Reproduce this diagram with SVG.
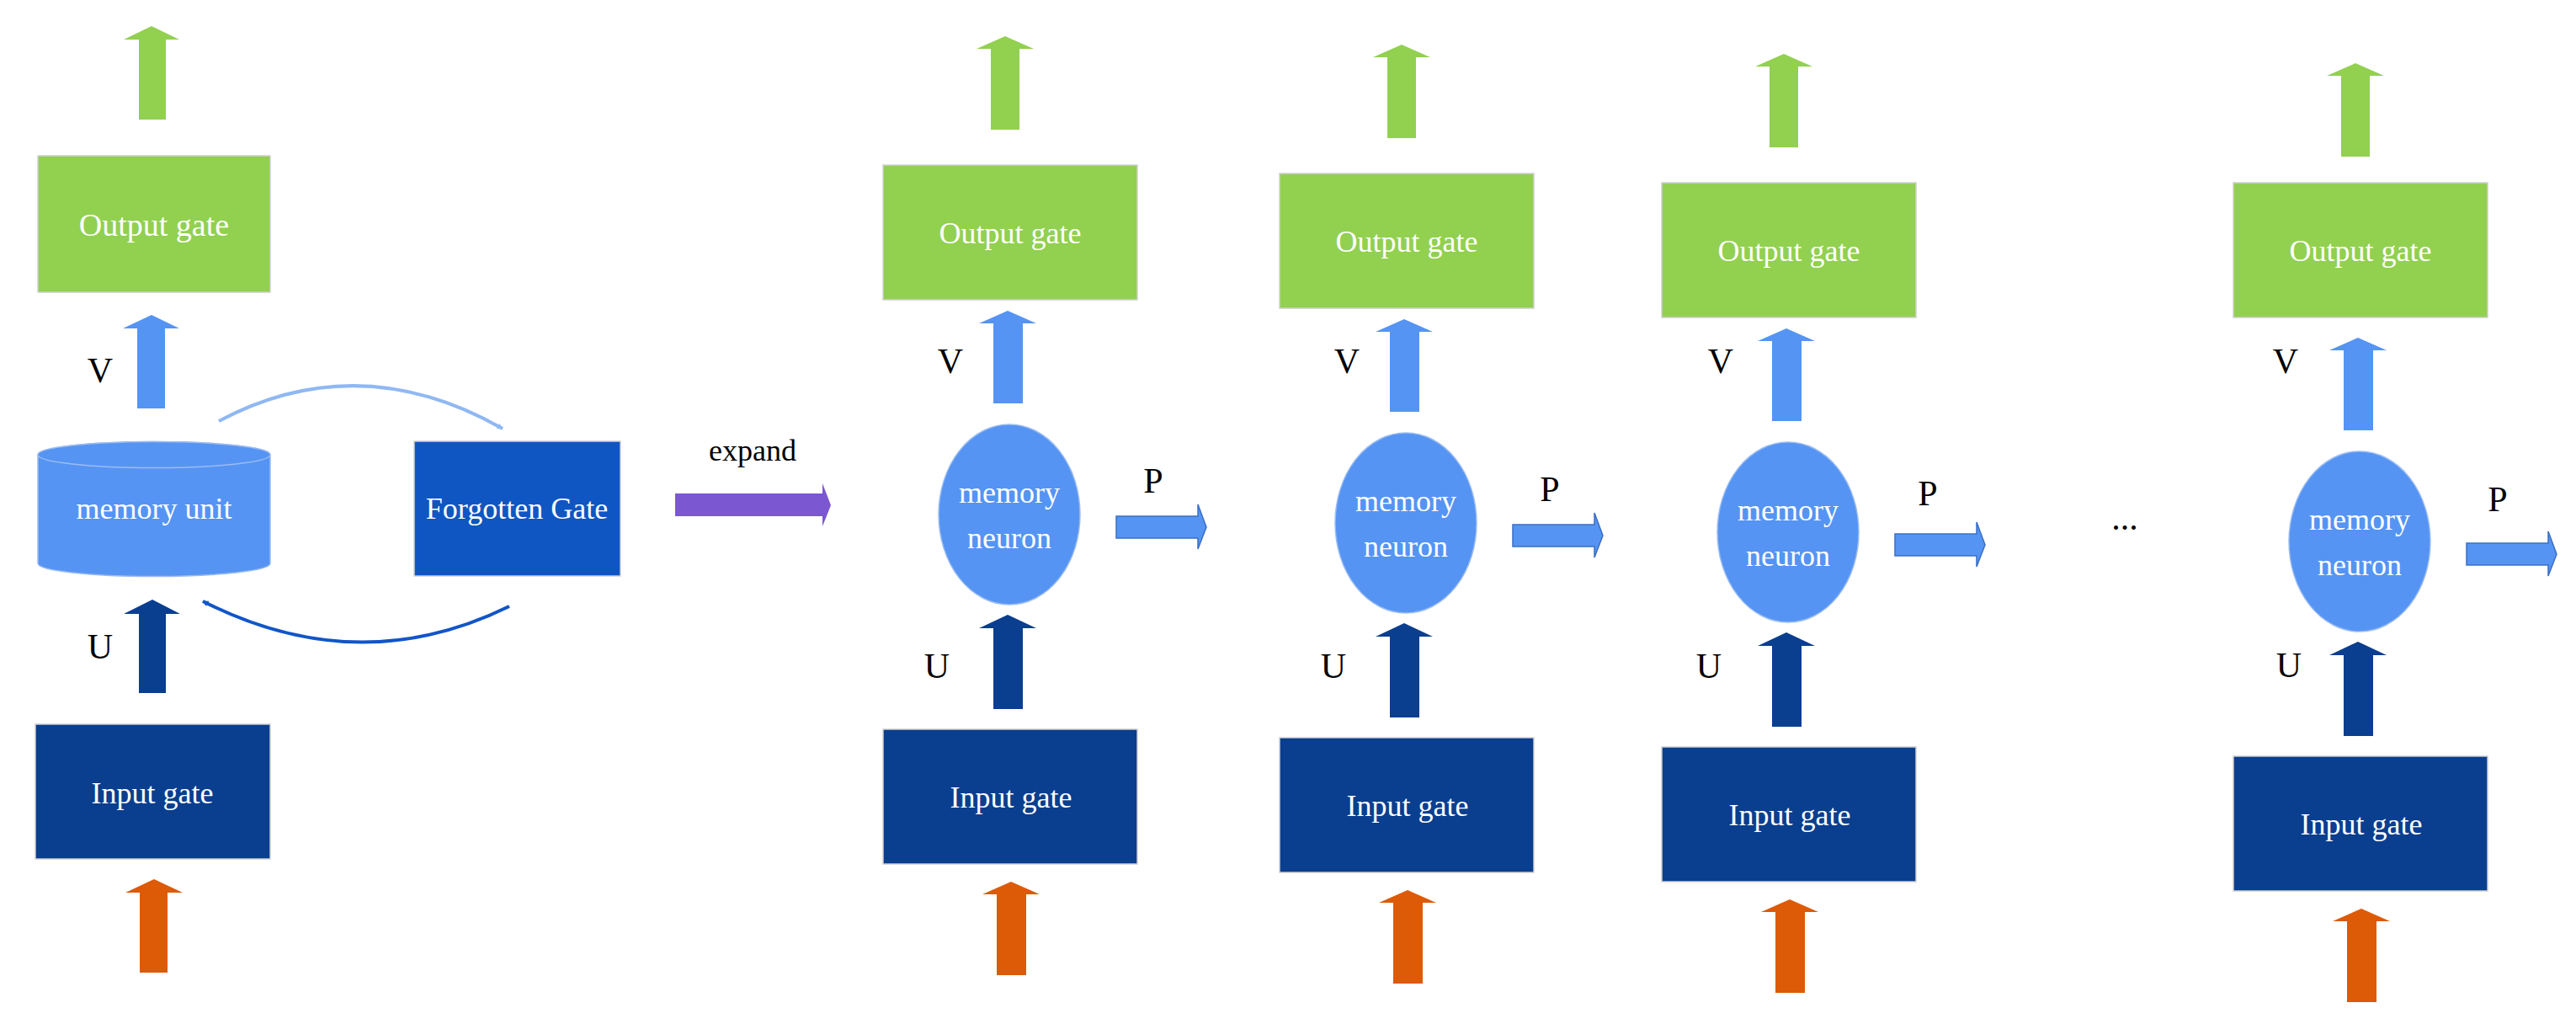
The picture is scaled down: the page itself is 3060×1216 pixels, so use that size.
<svg xmlns="http://www.w3.org/2000/svg" width="3060" height="1216" viewBox="0 0 3060 1216">
<defs>
<style>
.t{font-family:"Liberation Serif","Times New Roman",serif;fill:#fff;text-anchor:middle;dominant-baseline:central}
.l{font-family:"Liberation Serif","Times New Roman",serif;fill:#000;text-anchor:middle;dominant-baseline:central;font-size:42px}
.og{fill:#92d050;stroke:#cfcfcf;stroke-width:1.5}
.ig{fill:#0a3e8e;stroke:#cfcfcf;stroke-width:1.5}
.mn{fill:#5594f3;stroke:#9bbcf0;stroke-width:1.5}
.ga{fill:#92d050}.va{fill:#5594f3}.ua{fill:#0a3e8e}.oa{fill:#dd5a07}
.pa{fill:#5594f3;stroke:#3a6fc4;stroke-width:1.5}
</style>
<marker id="mL" viewBox="0 0 10 10" refX="9" refY="5" markerWidth="7" markerHeight="7" orient="auto" markerUnits="userSpaceOnUse"><path d="M0,0 L10,5 L0,10 z" fill="#8fb8f3"/></marker>
<marker id="mD" viewBox="0 0 10 10" refX="9" refY="5" markerWidth="7" markerHeight="7" orient="auto" markerUnits="userSpaceOnUse"><path d="M0,0 L10,5 L0,10 z" fill="#1155c8"/></marker>
</defs>
<rect width="3060" height="1216" fill="#fff"/>

<!-- Panel 1 nodes -->
<g id="output1"><rect class="og" x="45" y="185" width="276" height="162"/><text class="t" x="183" y="267" font-size="38">Output gate</text></g>
<g id="memoryunit"><path d="M45,540 L45,669 A138,15.5 0 0 0 321,669 L321,540 A138,15.5 0 0 0 45,540 Z" fill="#5594f3" stroke="#9bbcf0" stroke-width="1.5"/><ellipse cx="183" cy="540" rx="138" ry="15.5" fill="#5594f3" stroke="#9bbcf0" stroke-width="1.5"/><text class="t" x="183" y="604" font-size="36">memory unit</text></g>
<g id="forgotten"><rect x="492" y="524" width="245" height="160" fill="#0f56c3" stroke="#cfcfcf" stroke-width="1.5"/><text class="t" x="614" y="604" font-size="36">Forgotten Gate</text></g>
<g id="input1"><rect class="ig" x="42" y="860" width="279" height="160"/><text class="t" x="181" y="942" font-size="36">Input gate</text></g>
<text class="l" x="894" y="535" font-size="36" style="font-size:36px">expand</text>

<!-- Panel nodes 2..5 -->
<g id="output2"><rect class="og" x="1049" y="196" width="302" height="160"/><text class="t" x="1200" y="277" font-size="36">Output gate</text></g>
<g id="neuron2"><ellipse class="mn" cx="1199" cy="611" rx="84" ry="107"/><text class="t" x="1199" y="585" font-size="36">memory</text><text class="t" x="1199" y="639" font-size="36">neuron</text></g>
<g id="input2"><rect class="ig" x="1049" y="866" width="302" height="160"/><text class="t" x="1201" y="947" font-size="36">Input gate</text></g>

<g id="output3" transform="translate(471,10)"><rect class="og" x="1049" y="196" width="302" height="160"/><text class="t" x="1200" y="277" font-size="36">Output gate</text></g>
<g id="neuron3" transform="translate(471,10)"><ellipse class="mn" cx="1199" cy="611" rx="84" ry="107"/><text class="t" x="1199" y="585" font-size="36">memory</text><text class="t" x="1199" y="639" font-size="36">neuron</text></g>
<g id="input3" transform="translate(471,10)"><rect class="ig" x="1049" y="866" width="302" height="160"/><text class="t" x="1201" y="947" font-size="36">Input gate</text></g>

<g id="output4" transform="translate(925,21)"><rect class="og" x="1049" y="196" width="302" height="160"/><text class="t" x="1200" y="277" font-size="36">Output gate</text></g>
<g id="neuron4" transform="translate(925,21)"><ellipse class="mn" cx="1199" cy="611" rx="84" ry="107"/><text class="t" x="1199" y="585" font-size="36">memory</text><text class="t" x="1199" y="639" font-size="36">neuron</text></g>
<g id="input4" transform="translate(925,21)"><rect class="ig" x="1049" y="866" width="302" height="160"/><text class="t" x="1201" y="947" font-size="36">Input gate</text></g>

<text class="l" x="2524" y="615">...</text>

<g id="output5" transform="translate(1604,21)"><rect class="og" x="1049" y="196" width="302" height="160"/><text class="t" x="1200" y="277" font-size="36">Output gate</text></g>
<g id="neuron5" transform="translate(1604,32)"><ellipse class="mn" cx="1199" cy="611" rx="84" ry="107"/><text class="t" x="1199" y="585" font-size="36">memory</text><text class="t" x="1199" y="639" font-size="36">neuron</text></g>
<g id="input5" transform="translate(1604,32)"><rect class="ig" x="1049" y="866" width="302" height="160"/><text class="t" x="1201" y="947" font-size="36">Input gate</text></g>

<g id="connectors">
<polygon class="ga" points="147,47 180,31 213,47 197,47 197,142 165,142 165,47"/>
<polygon class="va" points="146,390 180,374 213,390 196,390 196,485 163,485 163,390"/>
<polygon class="ua" points="147,729 181,712 214,729 197,729 197,823 165,823 165,729"/>
<polygon class="oa" points="149,1060 183,1044 217,1060 199,1060 199,1155 166,1155 166,1060"/>
<text class="l" x="119" y="440">V</text>
<text class="l" x="119" y="768">U</text>
<path d="M260,500 Q426,412 597,509" fill="none" stroke="#8fb8f3" stroke-width="4" marker-end="url(#mL)"/>
<path d="M605,720 Q426,808 241,714" fill="none" stroke="#1155c8" stroke-width="4" marker-end="url(#mD)"/>
<polygon fill="#7b57d1" points="802,586 977,586 977,574 987,600 977,625 977,613 802,613"/>

<g id="arrows2">
<polygon class="ga" points="1160,58 1194,43 1228,58 1211,58 1211,154 1177,154 1177,58"/>
<polygon class="va" points="1163,384 1197,369 1231,384 1215,384 1215,479 1180,479 1180,384"/>
<polygon class="ua" points="1163,746 1197,730 1231,746 1215,746 1215,842 1180,842 1180,746"/>
<polygon class="oa" points="1167,1062 1201,1047 1235,1062 1219,1062 1219,1158 1184,1158 1184,1062"/>
<polygon class="pa" points="1326,613 1423,613 1423,599 1433,626 1423,652 1423,639 1326,639"/>
<text class="l" x="1129" y="429">V</text><text class="l" x="1113" y="791">U</text><text class="l" x="1370" y="571">P</text>
</g>
<g id="arrows3" transform="translate(471,10)">
<polygon class="ga" points="1160,58 1194,43 1228,58 1211,58 1211,154 1177,154 1177,58"/>
<polygon class="va" points="1163,384 1197,369 1231,384 1215,384 1215,479 1180,479 1180,384"/>
<polygon class="ua" points="1163,746 1197,730 1231,746 1215,746 1215,842 1180,842 1180,746"/>
<polygon class="oa" points="1167,1062 1201,1047 1235,1062 1219,1062 1219,1158 1184,1158 1184,1062"/>
<polygon class="pa" points="1326,613 1423,613 1423,599 1433,626 1423,652 1423,639 1326,639"/>
<text class="l" x="1129" y="419">V</text><text class="l" x="1113" y="781">U</text><text class="l" x="1370" y="571">P</text>
</g>
<g id="arrows4" transform="translate(925,21)">
<polygon class="ga" points="1160,58 1194,43 1228,58 1211,58 1211,154 1177,154 1177,58"/>
<polygon class="va" points="1163,384 1197,369 1231,384 1215,384 1215,479 1180,479 1180,384"/>
<polygon class="ua" points="1163,746 1197,730 1231,746 1215,746 1215,842 1180,842 1180,746"/>
<polygon class="oa" points="1167,1062 1201,1047 1235,1062 1219,1062 1219,1158 1184,1158 1184,1062"/>
<polygon class="pa" points="1326,613 1423,613 1423,599 1433,626 1423,652 1423,639 1326,639"/>
<text class="l" x="1119" y="408">V</text><text class="l" x="1105" y="770">U</text><text class="l" x="1365" y="565">P</text>
</g>
<g id="arrows5" transform="translate(1604,32)">
<polygon class="ga" points="1160,58 1194,43 1228,58 1211,58 1211,154 1177,154 1177,58"/>
<polygon class="va" points="1163,384 1197,369 1231,384 1215,384 1215,479 1180,479 1180,384"/>
<polygon class="ua" points="1163,746 1197,730 1231,746 1215,746 1215,842 1180,842 1180,746"/>
<polygon class="oa" points="1167,1062 1201,1047 1235,1062 1219,1062 1219,1158 1184,1158 1184,1062"/>
<polygon class="pa" points="1326,613 1423,613 1423,599 1433,626 1423,652 1423,639 1326,639"/>
<text class="l" x="1111" y="397">V</text><text class="l" x="1115" y="758">U</text><text class="l" x="1363" y="561">P</text>
</g>
</g>
</svg>
